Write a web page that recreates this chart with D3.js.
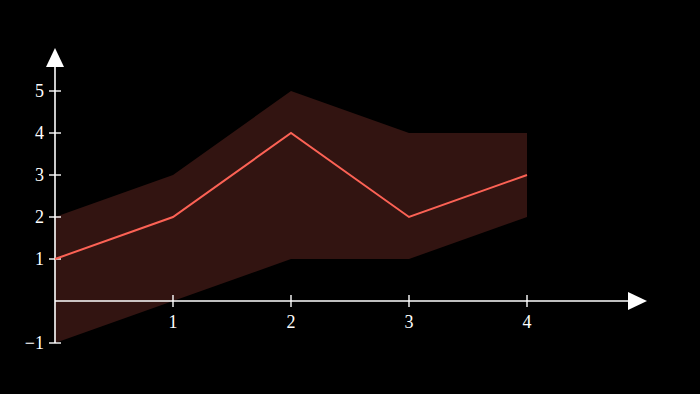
<!DOCTYPE html>
<meta charset="utf-8" />
<title>Line with band</title>
<style>
  body { margin: 0; background: #000; }
  .tick-label { font: 18px "Liberation Serif", serif; fill: #fff; }
</style>
<body>
<script src="https://cdn.jsdelivr.net/npm/d3@7"></script>
<script>
  // data
  var xs = [0, 1, 2, 3, 4];
  var line = [1, 2, 4, 2, 3];
  var upper = [2, 3, 5, 4, 4];
  var lower = [-1, 0, 1, 1, 2];
  var xTicks = [1, 2, 3, 4];
  var yTicks = [-1, 1, 2, 3, 4, 5];

  var width = 700, height = 394;
  var red = "#fc6255";

  var x = d3.scaleLinear().domain([0, 4]).range([55, 527]);
  var y = d3.scaleLinear().domain([0, 5]).range([301, 91]);

  var svg = d3.select("body").append("svg")
    .attr("width", width).attr("height", height)
    .style("display", "block").style("background", "#000");

  var rows = xs.map(function (d, i) {
    return { x: d, v: line[i], lo: lower[i], hi: upper[i] };
  });

  // band
  svg.append("path")
    .datum(rows)
    .attr("fill", red)
    .attr("fill-opacity", 0.2)
    .attr("d", d3.area()
      .x(function (d) { return x(d.x); })
      .y0(function (d) { return y(d.lo); })
      .y1(function (d) { return y(d.hi); }));

  // axes
  var ax = svg.append("g").attr("stroke", "#fff").attr("stroke-width", 1.6);
  ax.append("line")
    .attr("x1", x(0)).attr("x2", 630)
    .attr("y1", y(0)).attr("y2", y(0));
  ax.append("line")
    .attr("x1", x(0)).attr("x2", x(0))
    .attr("y1", y(-1)).attr("y2", 64);

  // arrow heads
  svg.append("path")
    .attr("fill", "#fff")
    .attr("d", "M628," + (y(0) - 9) + "L647," + y(0) + "L628," + (y(0) + 9) + "Z");
  svg.append("path")
    .attr("fill", "#fff")
    .attr("d", "M" + (x(0) - 9) + ",67L" + x(0) + ",48L" + (x(0) + 9) + ",67Z");

  // x ticks
  var xt = svg.append("g").selectAll("g").data(xTicks).join("g")
    .attr("transform", function (d) { return "translate(" + x(d) + "," + y(0) + ")"; });
  xt.append("line").attr("y1", -6).attr("y2", 6)
    .attr("stroke", "#fff").attr("stroke-width", 1.4);
  xt.append("text").attr("class", "tick-label")
    .attr("text-anchor", "middle").attr("y", 27)
    .text(function (d) { return d; });

  // y ticks
  var yt = svg.append("g").selectAll("g").data(yTicks).join("g")
    .attr("transform", function (d) { return "translate(" + x(0) + "," + y(d) + ")"; });
  yt.append("line").attr("x1", -6).attr("x2", 6)
    .attr("stroke", "#fff").attr("stroke-width", 1.4);
  yt.append("text").attr("class", "tick-label")
    .attr("text-anchor", "end").attr("x", -11).attr("dy", "0.34em")
    .text(function (d) { return d < 0 ? "\u2212" + (-d) : d; });

  // main line
  svg.append("path")
    .datum(rows)
    .attr("fill", "none")
    .attr("stroke", red)
    .attr("stroke-width", 2)
    .attr("d", d3.line()
      .x(function (d) { return x(d.x); })
      .y(function (d) { return y(d.v); }));
</script>
</body>
